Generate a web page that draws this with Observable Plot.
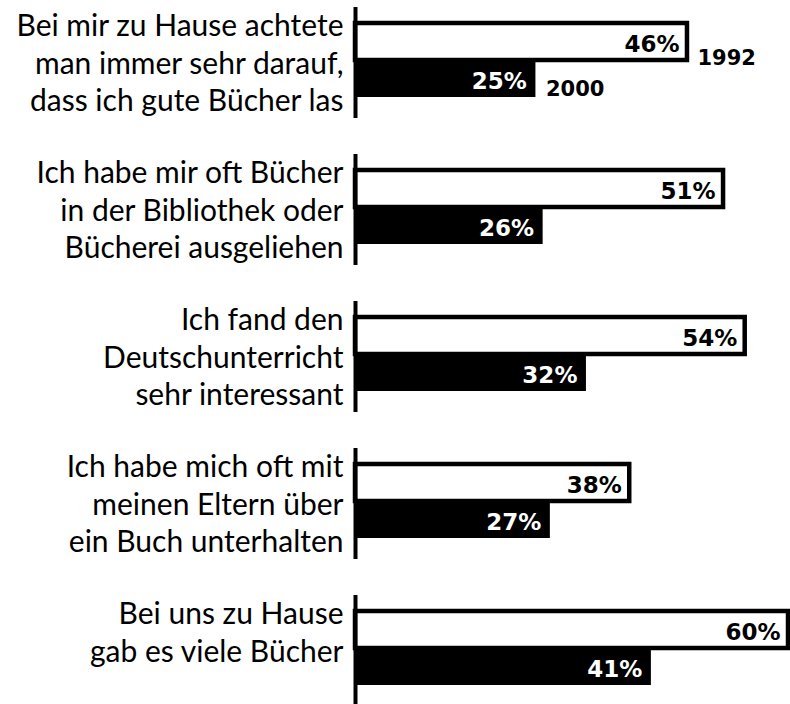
<!DOCTYPE html>
<html>
<head>
<meta charset="utf-8">
<script src="https://cdn.jsdelivr.net/npm/d3@7"></script>
<script src="https://cdn.jsdelivr.net/npm/@observablehq/plot@0.6"></script>
<style>
  html, body { margin: 0; padding: 0; background: #fff; }
  #chart svg { display: block; }
</style>
</head>
<body>
<div id="chart"></div>
<script>
const categories = [
  "Bei mir zu Hause achtete man immer sehr darauf, dass ich gute Bücher las",
  "Ich habe mir oft Bücher in der Bibliothek oder Bücherei ausgeliehen",
  "Ich fand den Deutschunterricht sehr interessant",
  "Ich habe mich oft mit meinen Eltern über ein Buch unterhalten",
  "Bei uns zu Hause gab es viele Bücher"
];
const labelLines = [
  ["Bei mir zu Hause achtete", "man immer sehr darauf,", "dass ich gute Bücher las"],
  ["Ich habe mir oft Bücher", "in der Bibliothek oder", "Bücherei ausgeliehen"],
  ["Ich fand den", "Deutschunterricht", "sehr interessant"],
  ["Ich habe mich oft mit", "meinen Eltern über", "ein Buch unterhalten"],
  ["Bei uns zu Hause", "gab es viele Bücher"]
];
const years = ["1992", "2000"];
const values1992 = [46, 51, 54, 38, 60];
const values2000 = [25, 26, 32, 27, 41];

const rows = categories.flatMap((c, i) => [
  {cat: c, year: years[0], value: values1992[i]},
  {cat: c, year: years[1], value: values2000[i]}
]);
const rows1992 = rows.filter(d => d.year === years[0]);
const rows2000 = rows.filter(d => d.year === years[1]);
const labels = categories.map((c, i) => ({cat: c, label: labelLines[i].join("\n")}));
const firstCat = rows.filter(d => d.cat === categories[0]);

const labelFont = "Lato, 'Open Sans', sans-serif";
const boldFont = "'DejaVu Sans', sans-serif";

const chart = Plot.plot({
  width: 790,
  height: 704,
  marginLeft: 355,
  marginRight: 2,
  marginTop: 5,
  marginBottom: -5,
  style: {fontFamily: labelFont, background: "white", color: "black"},
  x: {domain: [0, 60], axis: null},
  y: {domain: years, axis: null, paddingInner: 0, paddingOuter: 0.4737, align: 0.444},
  fy: {domain: categories, axis: null, paddingInner: 0.243, paddingOuter: 0},
  marks: [
    Plot.barX(rows1992, {fy: "cat", y: "year", x: "value", fill: "white", stroke: "black", strokeWidth: 4.5}),
    Plot.barX(rows2000, {fy: "cat", y: "year", x: "value", fill: "black"}),
    Plot.ruleX([0], {stroke: "black", strokeWidth: 4}),
    Plot.text(rows1992, {fy: "cat", y: "year", x: "value", text: d => d.value + "%",
      textAnchor: "end", lineAnchor: "bottom", dx: -8, dy: 10, fill: "black",
      fontSize: 23, fontWeight: "bold", fontFamily: boldFont}),
    Plot.text(rows2000, {fy: "cat", y: "year", x: "value", text: d => d.value + "%",
      textAnchor: "end", lineAnchor: "bottom", dx: -9, dy: 10, fill: "white",
      fontSize: 23, fontWeight: "bold", fontFamily: boldFont}),
    Plot.text(firstCat.filter(d => d.year === years[0]), {fy: "cat", y: "year", x: "value", text: "year",
      textAnchor: "start", lineAnchor: "bottom", dx: 10, dy: 23, fill: "black",
      fontSize: 21, fontWeight: "bold", fontFamily: boldFont}),
    Plot.text(firstCat.filter(d => d.year === years[1]), {fy: "cat", y: "year", x: "value", text: "year",
      textAnchor: "start", lineAnchor: "bottom", dx: 10, dy: 17, fill: "black",
      fontSize: 21, fontWeight: "bold", fontFamily: boldFont}),
    Plot.text(labels, {fy: "cat", text: "label", frameAnchor: "top-left",
      textAnchor: "end", lineAnchor: "top", dx: -12, dy: 2, lineHeight: 1.25,
      fontSize: 30, fill: "black", fontFamily: labelFont})
  ]
});
document.getElementById("chart").appendChild(chart);
</script>
</body>
</html>
